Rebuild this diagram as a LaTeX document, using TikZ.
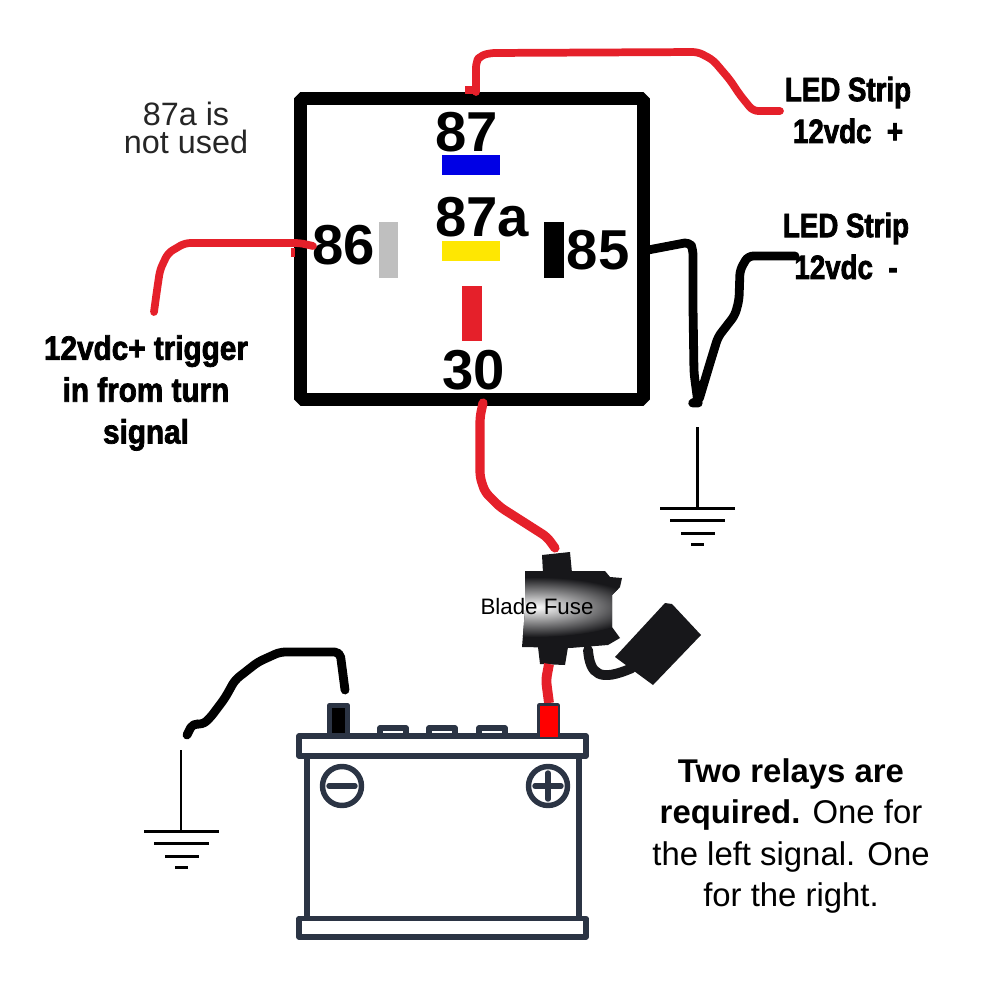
\documentclass[tikz,border=0pt]{standalone}
\usepackage{fontspec}
\setmainfont{Liberation Sans}
\newfontfamily\heavyfont[FakeStretch=0.82,FakeBold=2.2]{Liberation Sans Bold}
\newfontfamily\heavywide[FakeStretch=0.88,FakeBold=2.2]{Liberation Sans Bold}
\definecolor{wirered}{HTML}{E5202A}
\definecolor{batterynavy}{HTML}{2B3444}
\definecolor{fuseblack}{HTML}{17171A}
\tikzset{
  wire/.style={line width=2.2pt, line cap=round, line join=round, rounded corners=1.5pt},
  redwire/.style={wire, draw=wirered},
  blackwire/.style={wire, draw=black, line width=2.5pt},
  pinlabel/.style={font=\bfseries\fontsize{16}{16}\selectfont, inner sep=0pt},
  heavylabel/.style={font=\heavyfont\fontsize{9.6}{11.9}\selectfont, align=center, inner sep=0pt},
  battline/.style={draw=batterynavy, line width=1.55pt, line join=round},
  earth/.style={line width=0.85pt}
}
\begin{document}
\begin{tikzpicture}[x=0.01cm, y=-0.01cm]

  \useasboundingbox (0,0) rectangle (1000,1000);

  % relay
  \node [draw, line width=3.7pt, line join=bevel, minimum width=3.43cm, minimum height=3.01cm,
         inner sep=0pt, outer sep=0pt] (relay) at (472,249) {};

  \fill [blue!90!black] (442,155) rectangle ++ (58,20);
  \fill [yellow!90!orange] (442,241) rectangle ++ (58,20);
  \fill [wirered] (462,286) rectangle ++ (20,55);
  \fill [gray!50] (379,222) rectangle ++ (19,56);
  \fill [black] (544,222) rectangle ++ (20,56);

  \node [pinlabel] (pin87) at (467,132) {87};
  \node [pinlabel] (pin87a) at (482,217) {87a};
  \node [pinlabel] (pin86) at (344,245) {86};
  \node [pinlabel] (pin85) at (598,250) {85};
  \node [pinlabel] (pin30) at (474,370) {30};

  \node [font=\fontsize{9.2}{8.1}\selectfont, align=center, inner sep=0pt, text=black!85] (unused) at (186,128)
        {87a is\\not used};

  \node [heavylabel] (stripplus) at (848,110) {LED Strip\\12vdc\ \ +};
  \node [heavylabel] (stripminus) at (846,246) {LED Strip\\12vdc\ \ -};
  \node [heavylabel, font=\heavywide\fontsize{9.6}{11.9}\selectfont] (trigger) at (146,393)
        {12vdc+ trigger\\in from turn\\signal};

  % wire ends
  \coordinate (end87) at (476,92);
  \coordinate (endplus) at (780,111);
  \coordinate (endminus) at (795,256);
  \coordinate (end86) at (313,246);
  \coordinate (end85) at (648,250);
  \coordinate (end30) at (483,403);
  \coordinate (endtrigger) at (154,312);
  \coordinate (endearth) at (693,403);
  \coordinate (endneg) at (345,690);
  \coordinate (endbattearth) at (187,735);
  \coordinate (endfuse) at (555,548);

  \draw [redwire] (end87) -- (476,62) -- (480,56) -- (490,53) -- (698,52) -- (713,60) -- (730,80)
        -- (740,95) -- (753,111) -- (endplus);
  \draw [redwire, line cap=butt, rounded corners=0pt] (465,90) -- (478,90);

  \draw [redwire] (end86) -- (300,243) -- (185,243) -- (168,253) -- (160,270) -- (157,290) -- (endtrigger);
  \draw [redwire, line cap=butt, line width=1.4pt, rounded corners=0pt] (293,248) -- (293,257);

  \draw [blackwire] (end85) -- (690,242) -- (693,250) -- (693,307) -- (694,373) -- (698,403) -- (endearth)
        -- (698,403) -- (710,363) -- (718,337) -- (735,315) -- (739,300) -- (740,270) -- (748,256) -- (endminus);

  \draw [redwire, line width=2.6pt] (end30) -- (480,417) -- (480,477) -- (485,492) -- (500,507)
        -- (547,537) -- (endfuse);

  % fuse cap and its cable
  \draw [fuseblack, line width=2.8pt, line cap=round] (588,650) .. controls (590,675) and (600,682) .. (632,668);
  \fill [fuseblack] (665,603) -- (672,604) -- (701,635) -- (653,685) -- (615,657) -- cycle;

  % fuse body
  \fill [fuseblack] (542,555) -- (570,552) -- (572,573) -- (543,573) -- cycle;
  \fill [fuseblack] (538,647) -- (568,647) -- (565,665) -- (540,664) -- cycle;
  \begin{scope}
    \clip (525,571) -- (605,571) -- (610,577) -- (622,578) -- (620,587) -- (612,595) -- (612,627)
          -- (620,638) -- (608,645) -- (570,648) -- (522,647) -- (525,610) -- cycle;
    \fill [fuseblack] (510,560) rectangle (630,655);
    \shade [inner color=white, outer color=fuseblack] (535,607) ellipse (105 and 30);
  \end{scope}
  \node [font=\fontsize{6.35}{7}\selectfont, inner sep=0pt] (fuselabel) at (537,607) {Blade Fuse};

  \draw [redwire, line width=2.8pt, line cap=butt] (549,664) -- (546,680) -- (549,703);

  % battery
  \draw [battline, fill=black] (329.5,735) -- (329.5,705.5) -- (347.5,705.5) -- (347.5,735);
  \draw [battline, fill=red] (539.5,735) -- (539.5,705.5) -- (557.5,705.5) -- (557.5,735);
  \foreach \capx in {380,429,479}
    \draw [battline] (\capx,735) -- (\capx,728) -- ++ (26,0) -- ++ (0,7);

  \draw [battline, fill=white] (299,736) rectangle (586,756);
  \draw [battline] (307,756) -- (307,918);
  \draw [battline] (579,756) -- (579,918);
  \draw [battline, fill=white] (299,918.5) rectangle (586,937);

  \draw [battline] (342,786) circle (19.5);
  \draw [battline] (548,786) circle (19.5);
  \draw [battline, line cap=round] (329,786) -- (355,786);
  \draw [battline, line cap=round] (535,786) -- (561,786);
  \draw [battline, line cap=round] (548,773) -- (548,799);

  \fill [red] (539.5,705.5) rectangle (557.5,737);

  \draw [blackwire] (endneg) -- (342,667) -- (340,652) -- (280,652) -- (258,662) -- (235,680) -- (225,698)
        -- (210,718) -- (202,725) -- (193,723) -- (endbattearth);

  % grounds
  \foreach \gx/\gy in {697/508, 181/831} {
    \draw [earth] (\gx,\gy-81) -- (\gx,\gy);
    \draw [earth] (\gx-37,\gy) -- ++ (75,0);
    \draw [earth] (\gx-27,\gy+12) -- ++ (55,0);
    \draw [earth] (\gx-16,\gy+25) -- ++ (34,0);
    \draw [earth] (\gx-6,\gy+36) -- ++ (13,0);
  }

  \node [font=\fontsize{9.35}{11.7}\selectfont, align=center, inner sep=0pt] (note) at (791,836)
        {\textbf{Two relays are}\\\textbf{required.} One for\\the left signal. One\\for the right.};

\end{tikzpicture}
\end{document}
